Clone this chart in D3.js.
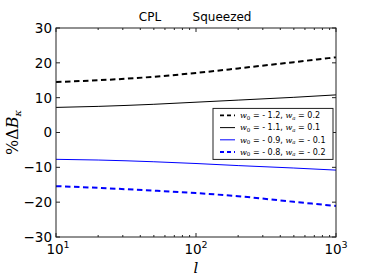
<html>
<head>
<script src="https://d3js.org/d3.v7.min.js"></script>
<style>
  body { margin: 0; background: #fff; }
  text { font-family: "DejaVu Sans", sans-serif; }
  .math { font-family: "DejaVu Serif", serif; font-style: italic; }
</style>
</head>
<body>
<div id="chart"></div>
<script>
// multipoles
var ells = [10, 20, 50, 100, 200, 500, 1000];
// %ΔB for each (w0, wa) model
var seriesA = [14.5, 15.0, 16.0, 17.1, 18.4, 20.2, 21.6];   // w0=-1.2, wa=0.2
var seriesB = [7.2, 7.5, 8.1, 8.7, 9.3, 10.1, 10.8];        // w0=-1.1, wa=0.1
var seriesC = [-7.7, -7.9, -8.4, -8.9, -9.5, -10.2, -10.8]; // w0=-0.9, wa=-0.1
var seriesD = [-15.4, -15.9, -16.7, -17.4, -18.3, -19.9, -21.1]; // w0=-0.8, wa=-0.2
var labels = [["- 1.2", "0.2"], ["- 1.1", "0.1"], ["- 0.9", "- 0.1"], ["- 0.8", "- 0.2"]];
var yTicks = [-30, -20, -10, 0, 10, 20, 30];
var xTicks = [10, 100, 1000];

var W = 374, H = 280;
var margin = {top: 28, right: 38, bottom: 43, left: 56};
var width = W - margin.left - margin.right,
    height = H - margin.top - margin.bottom;

var svg = d3.select("#chart").append("svg")
  .attr("width", W).attr("height", H);
var g = svg.append("g")
  .attr("transform", "translate(" + margin.left + "," + margin.top + ")");

var x = d3.scaleLog().domain([10, 1000]).range([0, width]);
var y = d3.scaleLinear().domain([-30, 30]).range([height, 0]);

var styles = [
  {data: seriesA, color: "black", dash: "5.5,3.5", w: 2},
  {data: seriesB, color: "black", dash: null, w: 1},
  {data: seriesC, color: "blue", dash: null, w: 1},
  {data: seriesD, color: "blue", dash: "5.5,3.5", w: 2}
];

var line = d3.line()
  .x(function(d, i) { return x(ells[i]); })
  .y(function(d) { return y(d); })
  .curve(d3.curveMonotoneX);

styles.forEach(function(s) {
  g.append("path")
    .attr("d", line(s.data))
    .attr("fill", "none")
    .attr("stroke", s.color)
    .attr("stroke-width", s.w)
    .attr("stroke-dasharray", s.dash);
});

// frame
g.append("rect").attr("width", width).attr("height", height)
  .attr("fill", "none").attr("stroke", "#222").attr("stroke-width", 1);

// y ticks (inward, both sides)
yTicks.forEach(function(t) {
  g.append("line").attr("x1", 0).attr("x2", 4).attr("y1", y(t)).attr("y2", y(t)).attr("stroke", "#222");
  g.append("line").attr("x1", width).attr("x2", width - 4).attr("y1", y(t)).attr("y2", y(t)).attr("stroke", "#222");
  g.append("text").attr("x", -4).attr("y", y(t)).attr("dy", "0.36em")
    .attr("text-anchor", "end").attr("font-size", 13.5)
    .text(t < 0 ? "\u2212" + Math.abs(t) : t);
});

// x ticks: major and minor, bottom and top
var minor = [];
[10, 100].forEach(function(dec) {
  for (var k = 2; k <= 9; k++) minor.push(dec * k);
});
xTicks.forEach(function(t) {
  g.append("line").attr("x1", x(t)).attr("x2", x(t)).attr("y1", height).attr("y2", height - 4).attr("stroke", "#222");
  g.append("line").attr("x1", x(t)).attr("x2", x(t)).attr("y1", 0).attr("y2", 4).attr("stroke", "#222");
  var lbl = g.append("text").attr("x", x(t) + (t === 10 ? 2 : 0)).attr("y", height + 17)
    .attr("text-anchor", "middle").attr("font-size", 13.5);
  lbl.append("tspan").text("10");
  lbl.append("tspan").attr("dy", -6).attr("font-size", 9.5).text(Math.round(Math.log10(t)));
});
minor.forEach(function(t) {
  g.append("line").attr("x1", x(t)).attr("x2", x(t)).attr("y1", height).attr("y2", height - 2).attr("stroke", "#222");
  g.append("line").attr("x1", x(t)).attr("x2", x(t)).attr("y1", 0).attr("y2", 2).attr("stroke", "#222");
});

// title
g.append("text").attr("x", width / 2 - 46).attr("y", -7).attr("text-anchor", "middle")
  .attr("font-size", 12).text("CPL");
g.append("text").attr("x", width / 2 + 26).attr("y", -7).attr("text-anchor", "middle")
  .attr("font-size", 12).text("Squeezed");

// axis labels
g.append("text").attr("class", "math").attr("x", width / 2).attr("y", height + 36)
  .attr("text-anchor", "middle").attr("font-size", 15).text("l");
var yl = svg.append("text").attr("transform", "translate(18," + (margin.top + height / 2) + ") rotate(-90)")
  .attr("text-anchor", "middle").attr("font-size", 16);
yl.append("tspan").attr("font-family", "DejaVu Serif").text("%");
yl.append("tspan").attr("font-family", "DejaVu Serif").text("\u0394");
yl.append("tspan").attr("class", "math").text("B");
yl.append("tspan").attr("class", "math").attr("dy", 3).attr("font-size", 10).text("\u03ba");

// legend
var lg = g.append("g").attr("transform", "translate(" + (x(1000) - 123) + "," + (y(7.2) + 1) + ")");
lg.append("rect").attr("width", 120).attr("height", 51)
  .attr("fill", "white").attr("stroke", "#222").attr("stroke-width", 1);
styles.forEach(function(s, i) {
  var yy = 7 + i * 12.2;
  lg.append("line").attr("x1", 7).attr("x2", 22).attr("y1", yy).attr("y2", yy)
    .attr("stroke", s.color).attr("stroke-width", s.w === 2 ? 1.8 : 1)
    .attr("stroke-dasharray", s.dash ? "4,3" : null);
  var t = lg.append("text").attr("x", 27).attr("y", yy).attr("dy", "0.35em").attr("font-size", 8);
  t.append("tspan").attr("class", "math").text("w");
  t.append("tspan").attr("font-size", 5.5).attr("dy", 1.5).attr("font-family", "DejaVu Serif").text("0");
  t.append("tspan").attr("dy", -1.5).text(" = " + labels[i][0] + ", ");
  t.append("tspan").attr("class", "math").text("w");
  t.append("tspan").attr("font-size", 5.5).attr("dy", 1.5).attr("class", "math").text("a");
  t.append("tspan").attr("dy", -1.5).text(" = " + labels[i][1]);
});
</script>
</body>
</html>
